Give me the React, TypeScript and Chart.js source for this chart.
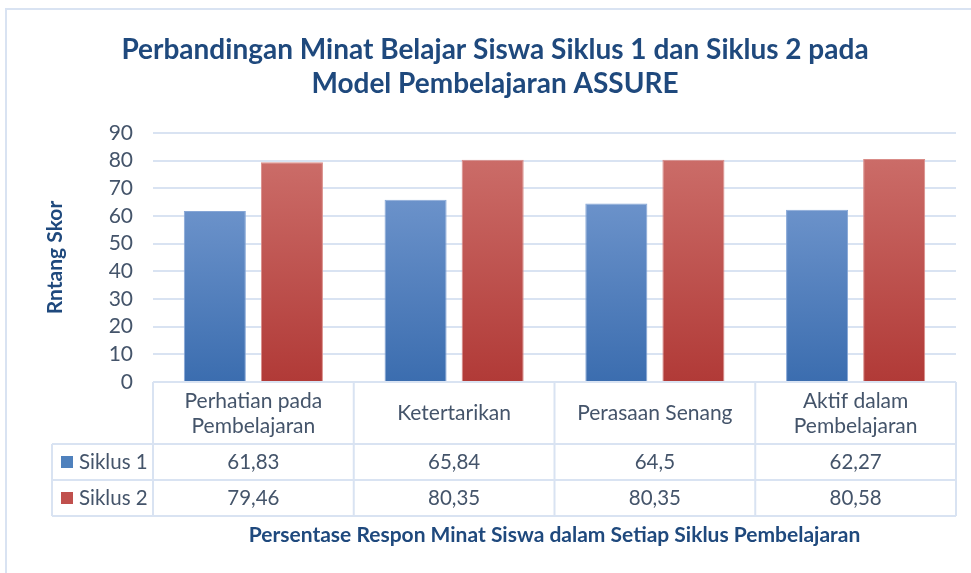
import React, { useEffect, useRef } from 'react';
import { Chart, registerables } from 'chart.js';

Chart.register(...registerables);

const titleLines = ['Perbandingan Minat Belajar Siswa Siklus 1 dan Siklus 2 pada', 'Model Pembelajaran ASSURE'];
const yAxisTitle = 'Rntang Skor';
const xAxisTitle = 'Persentase Respon Minat Siswa dalam Setiap Siklus Pembelajaran';
const categories: (string | string[])[] = [
  ['Perhatian pada', 'Pembelajaran'],
  'Ketertarikan',
  'Perasaan Senang',
  ['Aktif dalam', 'Pembelajaran'],
];
const seriesNames = ['Siklus 1', 'Siklus 2'];
const siklus1 = [61.83, 65.84, 64.5, 62.27];
const siklus2 = [79.46, 80.35, 80.35, 80.58];
const yMin = 0;
const yMax = 90;
const yStep = 10;

const FONT = 'Lato, "Open Sans", sans-serif';
const TITLE_COLOR = '#1F497D';
const TEXT_COLOR = '#44546A';
const LINE_COLOR = '#D9E3F2';

const seriesStyles = [
  { top: '#6B92CA', bottom: '#3B6DAF', border: '#86A6D6', swatch: '#4F81BD' },
  { top: '#CB6C68', bottom: '#B13A37', border: '#D98C88', swatch: '#C0504D' },
];

function gradientFor(idx: number) {
  return (ctx: any) => {
    const chart = ctx.chart;
    const area = chart.chartArea;
    const st = seriesStyles[idx];
    if (!area || ctx.type !== 'data') return st.swatch;
    const yScale = chart.scales.y;
    const v = ctx.raw as number;
    const topPx = yScale.getPixelForValue(v);
    const botPx = yScale.getPixelForValue(0);
    const g = chart.ctx.createLinearGradient(0, topPx, 0, botPx);
    g.addColorStop(0, st.top);
    g.addColorStop(1, st.bottom);
    return g;
  };
}

const fmt = (v: number) => String(v).replace('.', ',');

const tablePlugin = {
  id: 'dataTable',
  beforeDraw(chart: any) {
    const c = chart.ctx;
    c.save();
    c.fillStyle = '#ffffff';
    c.fillRect(0, 0, chart.width, chart.height);
    c.strokeStyle = LINE_COLOR;
    c.lineWidth = 2;
    c.strokeRect(6, 9, chart.width + 20, chart.height + 20);
    c.restore();
  },
  afterDraw(chart: any) {
    const c = chart.ctx;
    const area = chart.chartArea;
    const xs = chart.scales.x;
    const n = categories.length;
    const colW = (area.right - area.left) / n;
    const headTop = area.bottom;
    const headBottom = headTop + 62;
    const rowH = 36;
    const tableLeft = 52;
    const rowsBottom = headBottom + rowH * 2;

    c.save();
    c.strokeStyle = LINE_COLOR;
    c.lineWidth = 2;
    c.beginPath();
    c.moveTo(area.left, headTop);
    c.lineTo(area.right, headTop);
    for (let r = 0; r <= 2; r++) {
      const y = headBottom + r * rowH;
      c.moveTo(tableLeft, y);
      c.lineTo(area.right, y);
    }
    c.moveTo(tableLeft, headBottom);
    c.lineTo(tableLeft, rowsBottom);
    for (let i = 0; i <= n; i++) {
      const x = area.left + i * colW;
      c.moveTo(x, headTop);
      c.lineTo(x, rowsBottom);
    }
    c.stroke();

    const data = [siklus1, siklus2];
    c.font = `20.5px ${FONT}`;
    c.textBaseline = 'middle';
    for (let r = 0; r < 2; r++) {
      const yc = headBottom + r * rowH + rowH / 2;
      c.fillStyle = seriesStyles[r].swatch;
      c.fillRect(61, yc - 6, 12, 12);
      c.fillStyle = TEXT_COLOR;
      c.textAlign = 'left';
      c.fillText(seriesNames[r], 79, yc);
      c.textAlign = 'center';
      for (let i = 0; i < n; i++) {
        const x = xs.getPixelForValue(i);
        c.fillText(fmt(data[r][i]), x, yc);
      }
    }
    c.restore();
  },
};

export default function App() {
  const ref = useRef<HTMLCanvasElement | null>(null);
  useEffect(() => {
    document.body.style.margin = '0';
    if (!ref.current) return;
    const chart = new Chart(ref.current, {
      type: 'bar',
      data: {
        labels: categories as any,
        datasets: [
          {
            label: seriesNames[0],
            data: siklus1,
            backgroundColor: gradientFor(0) as any,
            borderColor: seriesStyles[0].border,
            borderWidth: 1,
            categoryPercentage: 0.768,
            barPercentage: 0.805,
          },
          {
            label: seriesNames[1],
            data: siklus2,
            backgroundColor: gradientFor(1) as any,
            borderColor: seriesStyles[1].border,
            borderWidth: 1,
            categoryPercentage: 0.768,
            barPercentage: 0.805,
          },
        ],
      },
      options: {
        responsive: false,
        animation: false,
        layout: { padding: { left: 34, right: 15, top: 0, bottom: 0 } },
        plugins: {
          legend: { display: false },
          tooltip: { enabled: false },
          title: {
            display: true,
            text: titleLines,
            color: TITLE_COLOR,
            font: { family: FONT, size: 28, weight: 'bold', lineHeight: '34px' as any },
            padding: { top: 33, bottom: 32 },
          },
        },
        scales: {
          x: {
            grid: { display: false, drawTicks: false },
            border: { display: false },
            ticks: {
              color: TEXT_COLOR,
              font: { family: FONT, size: 21, lineHeight: '25px' as any },
              padding: 19,
              crossAlign: 'center',
              maxRotation: 0,
              autoSkip: false,
            },
            title: {
              display: true,
              text: xAxisTitle,
              color: TITLE_COLOR,
              font: { family: FONT, size: 21, weight: 'bold' },
              padding: { top: 0, bottom: 25 },
            },
            afterFit(scale: any) {
              scale.height = 191;
            },
          },
          y: {
            min: yMin,
            max: yMax,
            ticks: {
              stepSize: yStep,
              autoSkip: false,
              color: TEXT_COLOR,
              font: { family: FONT, size: 21 },
              padding: 20,
            },
            grid: { color: LINE_COLOR, lineWidth: 2, drawTicks: false },
            border: { display: false },
            title: {
              display: true,
              text: yAxisTitle,
              color: TITLE_COLOR,
              font: { family: FONT, size: 21, weight: 'bold' },
              padding: { top: 9, bottom: 0 },
            },
            afterFit(scale: any) {
              scale.width = 119;
            },
          },
        },
      },
      plugins: [tablePlugin],
    });
    return () => chart.destroy();
  }, []);
  return (
    <div style={{ position: 'absolute', left: 0, top: 0, width: 971, height: 573 }}>
      <canvas ref={ref} width={971} height={573} />
    </div>
  );
}
